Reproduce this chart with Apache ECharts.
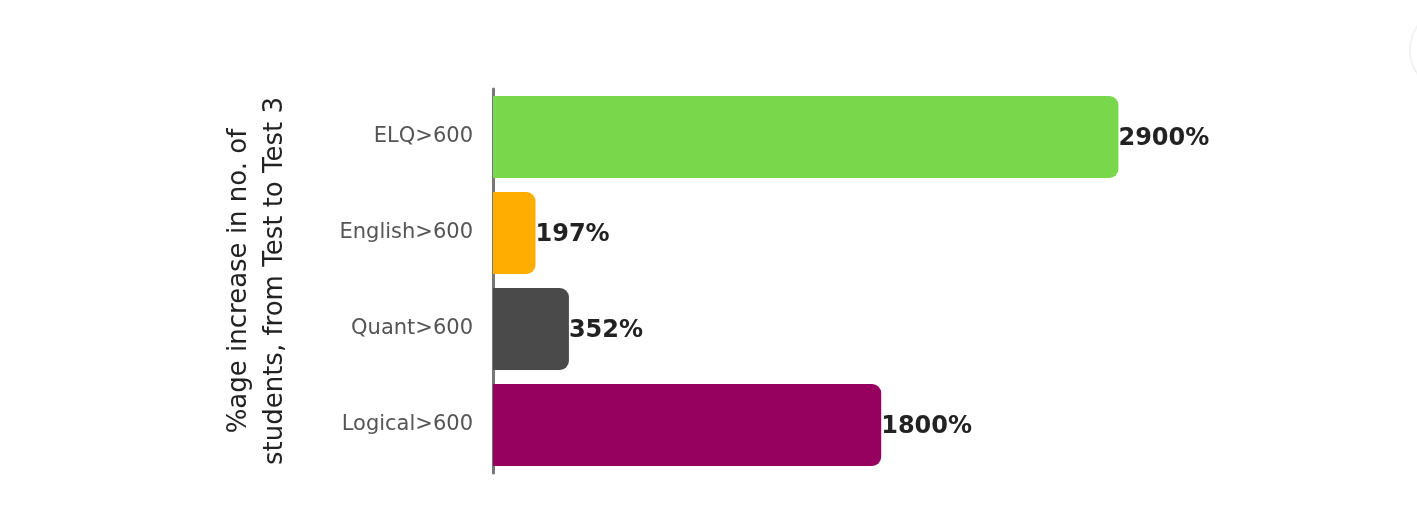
<!DOCTYPE html>
<html>
<head>
<meta charset="utf-8">
<script src="https://cdn.jsdelivr.net/npm/echarts@6/dist/echarts.min.js"></script>
<style>html,body{margin:0;padding:0;background:#fff}#c{width:1417px;height:513px}</style>
</head>
<body>
<div id="c"></div>
<script>
const categories = ['ELQ>600', 'English>600', 'Quant>600', 'Logical>600'];
const values = [2900, 197, 352, 1800];
const colors = ['#79D74B', '#FFAD00', '#4A4A4A', '#96005E'];
const axisTitle = '%age increase in no. of\nstudents, from Test to Test 3';

const chart = echarts.init(document.getElementById('c'));
chart.setOption({
  animation: false,
  backgroundColor: '#fff',
  grid: { left: 493, right: 277, top: 89, bottom: 40, containLabel: false },
  xAxis: {
    type: 'value', min: 0, max: 3000, show: false
  },
  yAxis: {
    type: 'category', data: categories, inverse: true,
    axisLine: { show: true, lineStyle: { color: '#777', width: 3 } },
    axisTick: { show: false },
    axisLabel: { margin: 20, fontFamily: 'DejaVu Sans', fontSize: 21, color: '#555' },
    name: axisTitle,
    nameLocation: 'middle',
    nameRotate: 90,
    nameGap: 200,
    nameTextStyle: { fontFamily: 'DejaVu Sans', fontSize: 26, color: '#222', lineHeight: 36, align: 'center' }
  },
  series: [{
    type: 'bar',
    data: values.map((v, i) => ({ value: v, itemStyle: { color: colors[i] } })),
    barCategoryGap: '14.6%',
    itemStyle: { borderRadius: [0, 9, 9, 0] },
    label: {
      show: true, position: 'right', distance: 0, offset: [0, 2],
      formatter: p => p.value + '%',
      fontFamily: 'DejaVu Sans', fontWeight: 'bold', fontSize: 24, color: '#222'
    }
  }],
  graphic: [{
    type: 'circle', shape: { cx: 1452, cy: 50, r: 42 },
    style: { fill: '#fff', stroke: '#f2f2f2', lineWidth: 2 }, silent: true
  }]
});
</script>
</body>
</html>
